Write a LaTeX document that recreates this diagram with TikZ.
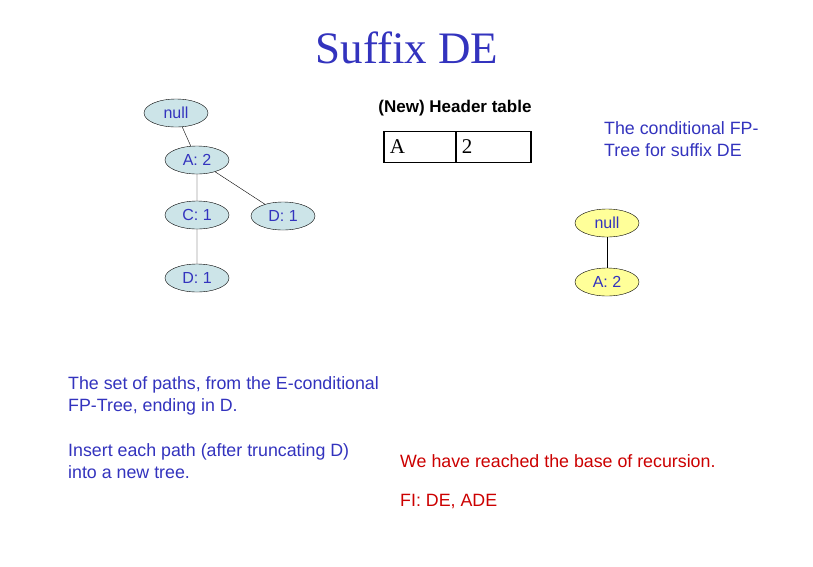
\documentclass[tikz,border=0pt]{standalone}
\usepackage{fontspec}
\setmainfont{Liberation Serif}
\setsansfont{Liberation Sans}
\usetikzlibrary{shapes.geometric}
\definecolor{tblue}{RGB}{51,51,190}
\definecolor{nblue}{RGB}{204,228,232}
\definecolor{nyel}{RGB}{255,255,153}
\definecolor{tred}{RGB}{204,0,0}
\begin{document}
\begin{tikzpicture}[x=1pt,y=-1pt,
  bn/.style={ellipse,draw,fill=nblue,minimum width=64pt,minimum height=28pt,inner sep=0pt,font=\sffamily\fontsize{16}{18}\selectfont,text=tblue},
  yn/.style={bn,fill=nyel},
  txt/.style={font=\sffamily\fontsize{17.8}{22}\selectfont,text=tblue,align=left,anchor=west,inner sep=0pt}]
\useasboundingbox[fill=white] (0,0) rectangle (813,566);
\node[font=\fontsize{45}{50}\selectfont,text=tblue] (title) at (407,48) {Suffix DE};
\node[bn] (n0) at (176,113) {null};
\node[bn] (n1) at (197,160) {A: 2};
\node[bn] (n2) at (197,215) {C: 1};
\node[bn] (n3) at (283,216) {D: 1};
\node[bn] (n4) at (197,278) {D: 1};
\draw (n0)--(n1) (n1)--(n2) (n1)--(n3) (n2)--(n4);
\node[font=\sffamily\bfseries\fontsize{17}{20}\selectfont] (ht) at (455,108) {(New) Header table};
\node[draw,line width=1.6pt,minimum width=72pt,minimum height=31pt,anchor=west,font=\fontsize{21}{24}\selectfont,text width=60pt] (c1) at (383,147) {A};
\node[draw,line width=1.6pt,minimum width=75pt,minimum height=31pt,anchor=west,font=\fontsize{21}{24}\selectfont,text width=63pt] (c2) at (455,147) {2};
\node[txt] (ct) at (604,139) {The conditional FP-\\Tree for suffix DE};
\node[yn] (y0) at (607,223) {null};
\node[yn] (y1) at (607,282) {A: 2};
\draw (y0)--(y1);
\node[txt] (p1) at (68,396) {The set of paths, from the E-conditional\\FP-Tree, ending in D.};
\node[txt] (p2) at (68,461) {Insert each path (after truncating D)\\into a new tree.};
\node[txt,text=tred] (r1) at (400,461) {We have reached the base of recursion.};
\node[txt,text=tred] (r2) at (400,502) {FI: DE, ADE};
\end{tikzpicture}
\end{document}
